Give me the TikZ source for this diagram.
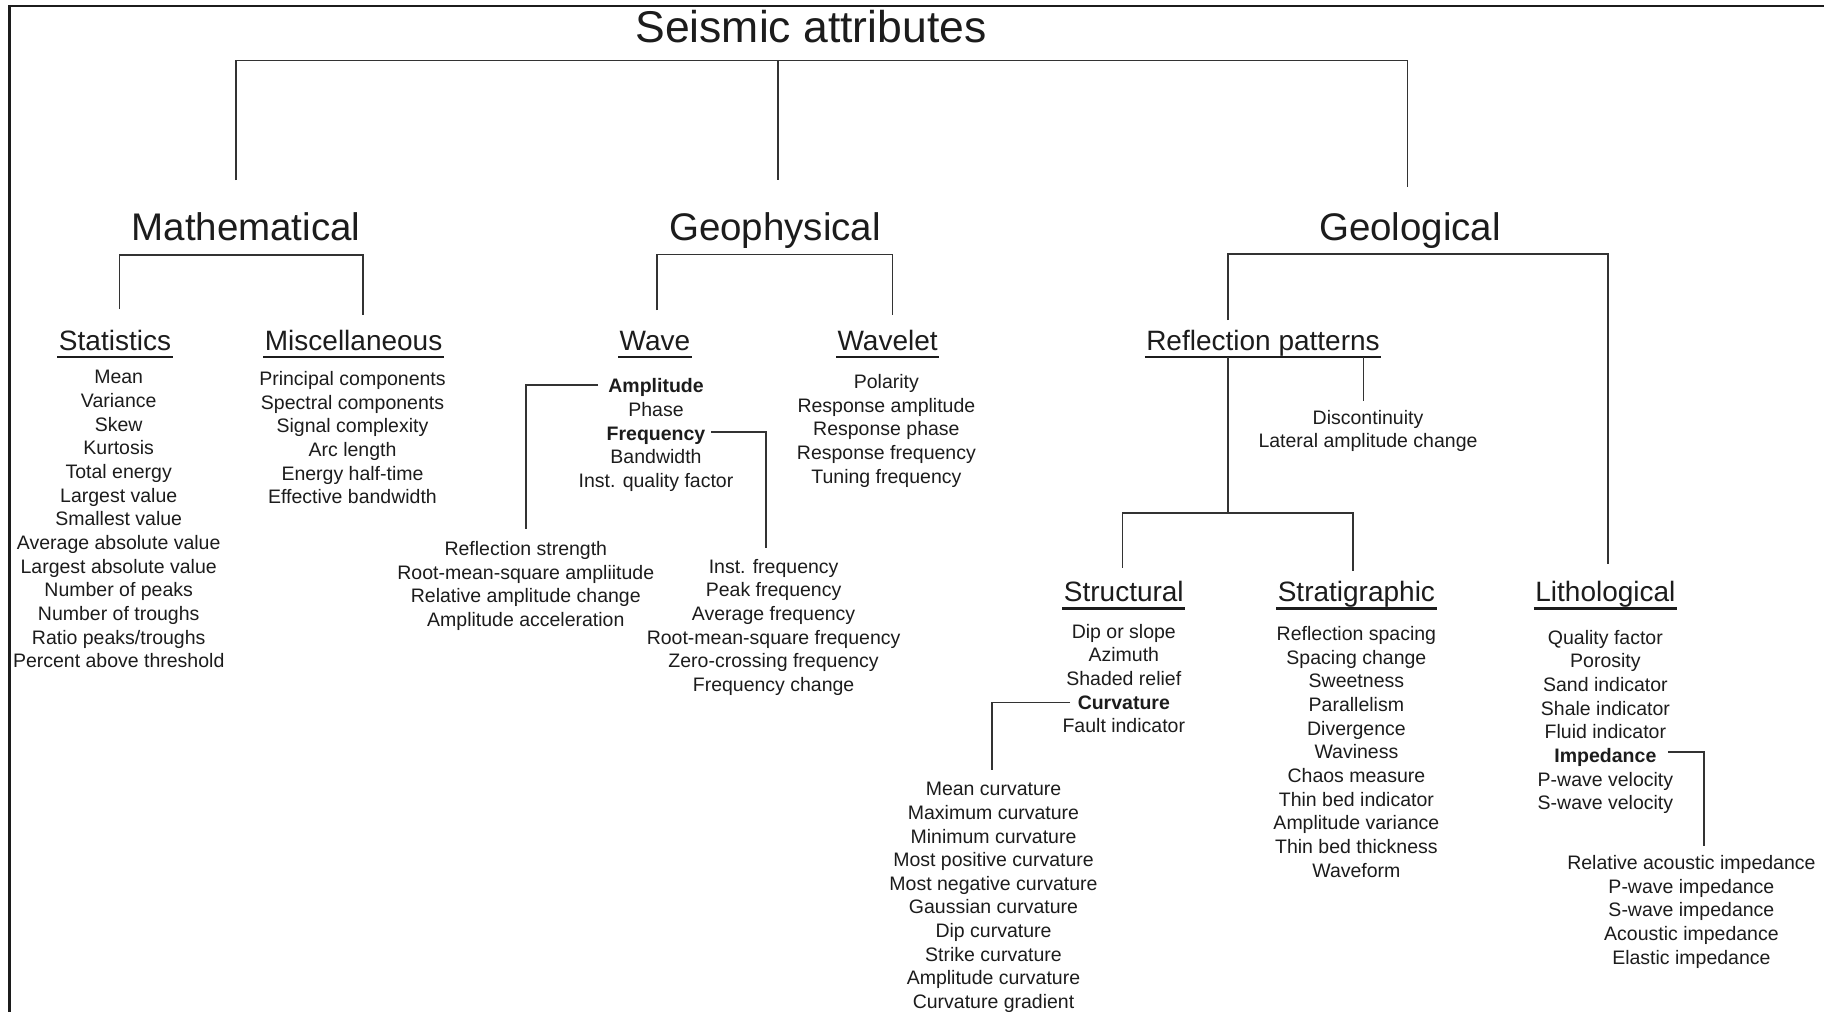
\documentclass[tikz,border=0pt]{standalone}
\usepackage{fontspec}
\setmainfont{Liberation Sans}
\usetikzlibrary{calc}
\definecolor{ink}{HTML}{1C1C1C}
\definecolor{rule}{HTML}{333333}

\begin{document}
\begin{tikzpicture}[x=1pt,y=-1pt,
  every node/.style={inner sep=0pt,outer sep=0pt,text=ink},
  toptitle/.style={font=\fontsize{44.5}{50}\selectfont,anchor=base},
  branch/.style={font=\fontsize{38.5}{44}\selectfont,anchor=base},
  group/.style={font=\fontsize{28}{32}\selectfont,anchor=base},
  items/.style={font=\fontsize{19.5}{23.65}\selectfont,align=center,
                anchor=north,yshift=13pt,execute at begin node=\strut},
  link/.style={draw=rule,line width=1.7pt},
  uline/.style={draw=ink,line width=2.7pt},
  frame/.style={draw=ink,line width=2.6pt}]

\useasboundingbox (0,0) rectangle (1824,1012);
\fill[white] (0,0) rectangle (1824,1012);

% outer rules
\draw[frame] (9.5,1012) -- (9.5,6) -- (1824,6);

% ---------- headings ----------
\node[toptitle] (root) at (811,42) {Seismic attributes};

\node[branch] (math)  at (246,240)  {Mathematical};
\node[branch] (geoph) at (775,240)  {Geophysical};
\node[branch] (geol)  at (1410,240) {Geological};

\node[group] (stat)    at (115,350)    {Statistics};
\node[group] (misc)    at (353.6,350)  {Miscellaneous};
\node[group] (wave)    at (655,350)    {Wave};
\node[group] (wavelet) at (887.6,350)  {Wavelet};
\node[group] (refl)    at (1263,350)   {Reflection patterns};
\node[group] (struct)  at (1123.8,601.5) {Structural};
\node[group] (strat)   at (1356.4,601.5) {Stratigraphic};
\node[group] (litho)   at (1605.4,601.5) {Lithological};

\foreach \n in {stat,misc,wave,wavelet,refl,struct,strat,litho}
  \draw[uline] ([xshift=-1.5pt,yshift=-7pt]\n.base west) -- ([xshift=1.5pt,yshift=-7pt]\n.base east);

% ---------- lists ----------
\node[items] (statList) at (118.7,383.5) {Mean\\Variance\\Skew\\Kurtosis\\Total energy\\Largest value\\Smallest value\\Average absolute value\\Largest absolute value\\Number of peaks\\Number of troughs\\Ratio peaks/troughs\\Percent above threshold};

\node[items] (miscList) at (352.5,384.5) {Principal components\\Spectral components\\Signal complexity\\Arc length\\Energy half-time\\Effective bandwidth};

\node[items] (waveList) at (656,391.7) {\textbf{Amplitude}\\Phase\\\textbf{Frequency}\\Bandwidth\\Inst. quality factor};

\node[items] (ampList) at (525.8,554.5) {Reflection strength\\Root-mean-square ampliitude\\Relative amplitude change\\Amplitude acceleration};

\node[items] (freqList) at (773.6,572) {Inst. frequency\\Peak frequency\\Average frequency\\Root-mean-square frequency\\Zero-crossing frequency\\Frequency change};

\node[items] (waveletList) at (886.4,387.3) {Polarity\\Response amplitude\\Response phase\\Response frequency\\Tuning frequency};

\node[items] (discList) at (1368,423) {Discontinuity\\Lateral amplitude change};

\node[items] (structList) at (1123.8,637) {Dip or slope\\Azimuth\\Shaded relief\\\textbf{Curvature}\\Fault indicator};

\node[items] (curvList) at (993.5,795.3) {Mean curvature\\Maximum curvature\\Minimum curvature\\Most positive curvature\\Most negative curvature\\Gaussian curvature\\Dip curvature\\Strike curvature\\Amplitude curvature\\Curvature gradient};

\node[items] (stratList) at (1356.4,639.4) {Reflection spacing\\Spacing change\\Sweetness\\Parallelism\\Divergence\\Waviness\\Chaos measure\\Thin bed indicator\\Amplitude variance\\Thin bed thickness\\Waveform};

\node[items] (lithoList) at (1605.4,643) {Quality factor\\Porosity\\Sand indicator\\Shale indicator\\Fluid indicator\\\textbf{Impedance}\\P-wave velocity\\S-wave velocity};

\node[items] (impList) at (1691.4,868.3) {Relative acoustic impedance\\P-wave impedance\\S-wave impedance\\Acoustic impedance\\Elastic impedance};

% ---------- connector joints ----------
\coordinate (rootL) at (236,60.5);
\coordinate (rootM) at (778,60.5);
\coordinate (rootR) at (1407.6,60.5);
\coordinate (toMath)  at (236,180);
\coordinate (toGeoph) at (778,180);
\coordinate (toGeol)  at (1407.6,187);

\coordinate (mBar) at (119.5,255);
\coordinate (toStat) at (119.5,309);
\coordinate (toMisc) at (363,315);

\coordinate (gBar) at (657,254.5);
\coordinate (toWave) at (657,310);
\coordinate (toWavelet) at (892.5,315);

\coordinate (lBar) at (1228,254);
\coordinate (toRefl) at (1228,320);
\coordinate (toLitho) at (1607.7,564);

\coordinate (reflOut) at (1228,357);
\coordinate (sBar) at (1228,513);
\coordinate (sBarL) at (1122.6,513);
\coordinate (toStruct) at (1122.6,567.7);
\coordinate (toStrat) at (1352.9,571);
\coordinate (reflSide) at (1363.4,357);
\coordinate (toDisc) at (1363.4,401);

\coordinate (ampOut) at (598,385);
\coordinate (toAmp) at (526,529);
\coordinate (freqOut) at (711,431.7);
\coordinate (toFreq) at (766.3,548);
\coordinate (curvOut) at (1070,702.6);
\coordinate (toCurv) at (992.3,770);
\coordinate (impOut) at (1668,752);
\coordinate (toImp) at (1704,845.5);

% ---------- connectors ----------
\draw[link] (toMath) -- (rootL) -- (rootR) -- (toGeol);
\draw[link] (rootM) -- (toGeoph);

\draw[link] (toStat) -- (mBar) -| (toMisc);
\draw[link] (toWave) -- (gBar) -| (toWavelet);
\draw[link] (toRefl) -- (lBar) -| (toLitho);

\draw[link] (reflOut) -- (sBar);
\draw[link] (toStruct) -- (sBarL) -| (toStrat);
\draw[link] (reflSide) -- (toDisc);

\draw[link] (ampOut) -| (toAmp);
\draw[link] (freqOut) -| (toFreq);
\draw[link] (curvOut) -| (toCurv);
\draw[link] (impOut) -| (toImp);

\end{tikzpicture}
\end{document}
